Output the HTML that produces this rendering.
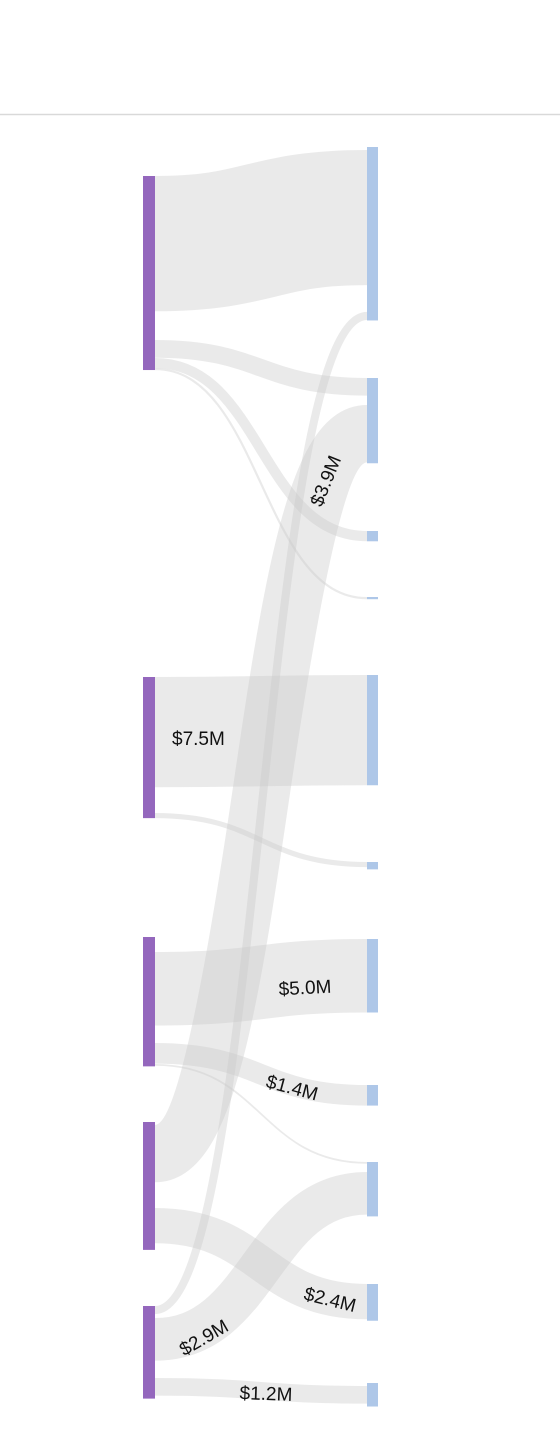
<!DOCTYPE html>
<html><head><meta charset="utf-8"><style>
html,body{margin:0;padding:0;background:#fff;}
svg{display:block;font-family:"Liberation Sans",sans-serif;}
</style></head>
<body>
<svg id="chart" width="560" height="1452" viewBox="0 0 560 1452">
<line x1="0" y1="114.5" x2="560" y2="114.5" stroke="#d9d9d9" stroke-width="1.5"/>
<g id="links"></g><g id="nodes"></g><g id="labels"></g>
</svg>
<script>
// data ($M)
const linkSource = [0,0,0,0,1,1,2,2,2,3,3,4,4,4];
const linkTarget = [0,1,2,3,4,5,6,7,8,1,9,0,8,10];
const linkValues = [9.2,1.2,0.7,0.15,7.5,0.35,5.0,1.4,0.12,3.9,2.4,0.55,2.9,1.2];
const linkSrcOffset = [0,11.16,12.38,13.06,0,9.25,1.02,7.21,8.64,0.2,5.85,0,0.82,4.9];
const linkTgtOffset = [0.2,0,0,0,0,0,0,0,0,1.84,0,11.22,0.68,0.2];
const linkLabels = ["","","","","$7.5M","","$5.0M","$1.4M","","$3.9M","$2.4M","","$2.9M","$1.2M"];
const sourceValues = [13.2,9.6,8.8,8.7,6.3];
const targetValues = [11.8,5.8,0.7,0.15,7.5,0.5,5.0,1.4,3.7,2.5,1.6];
// layout
const k = 14.7;
const sourceTop = [176,677,937,1122,1306];
const targetTop = [147,378,531,597,675,862,939,1085,1162,1284,1383];
const x0 = 155, x1 = 367;
const ns = "http://www.w3.org/2000/svg";
const gL = document.getElementById('links'), gN = document.getElementById('nodes'), gT = document.getElementById('labels');
const labelPos = {4:[172,745,0,'start'],6:[305,994,-3,'middle'],7:[292,1094,15,'middle'],9:[326,487,-68,'middle'],10:[330,1306,14,'middle'],12:[204,1344,-30,'middle'],13:[266,1400,2,'middle']};
for (let i=0;i<linkValues.length;i++){
  const w = Math.max(linkValues[i]*k,1.5);
  const sy = sourceTop[linkSource[i]] + linkSrcOffset[i]*k + w/2;
  const ty = targetTop[linkTarget[i]] + linkTgtOffset[i]*k + w/2;
  const xm = (x0+x1)/2;
  const d = `M${x0},${sy} C${xm},${sy} ${xm},${ty} ${x1},${ty}`;
  const p = document.createElementNS(ns,'path');
  p.setAttribute('d',d);
  p.setAttribute('fill','none');
  p.setAttribute('stroke','#c8c8c8');
  p.setAttribute('stroke-opacity','0.38');
  p.setAttribute('stroke-width', w);
  
  
  gL.appendChild(p);
  if (linkLabels[i] && labelPos[i]){
    const [lx,ly,rot,anchor] = labelPos[i];
    const t = document.createElementNS(ns,'text');
    t.setAttribute('x',lx);t.setAttribute('y',ly);
    t.setAttribute('font-size','19');t.setAttribute('fill','#111');
    t.setAttribute('text-anchor',anchor);
    t.setAttribute('transform',`rotate(${rot} ${lx} ${ly-6})`);
    t.textContent = linkLabels[i];
    
    
    gT.appendChild(t);
  }
}
for (let i=0;i<sourceValues.length;i++){
  const r = document.createElementNS(ns,'rect');
  r.setAttribute('x',143);r.setAttribute('y',sourceTop[i]);
  r.setAttribute('width',12);r.setAttribute('height',sourceValues[i]*k);
  r.setAttribute('fill','#9467bd');
  
  
  gN.appendChild(r);
}
for (let i=0;i<targetValues.length;i++){
  const r = document.createElementNS(ns,'rect');
  r.setAttribute('x',367);r.setAttribute('y',targetTop[i]);
  r.setAttribute('width',11);r.setAttribute('height',Math.max(targetValues[i]*k,2));
  r.setAttribute('fill','#aec7e8');
  
  
  gN.appendChild(r);
}
</script>
</body></html>
